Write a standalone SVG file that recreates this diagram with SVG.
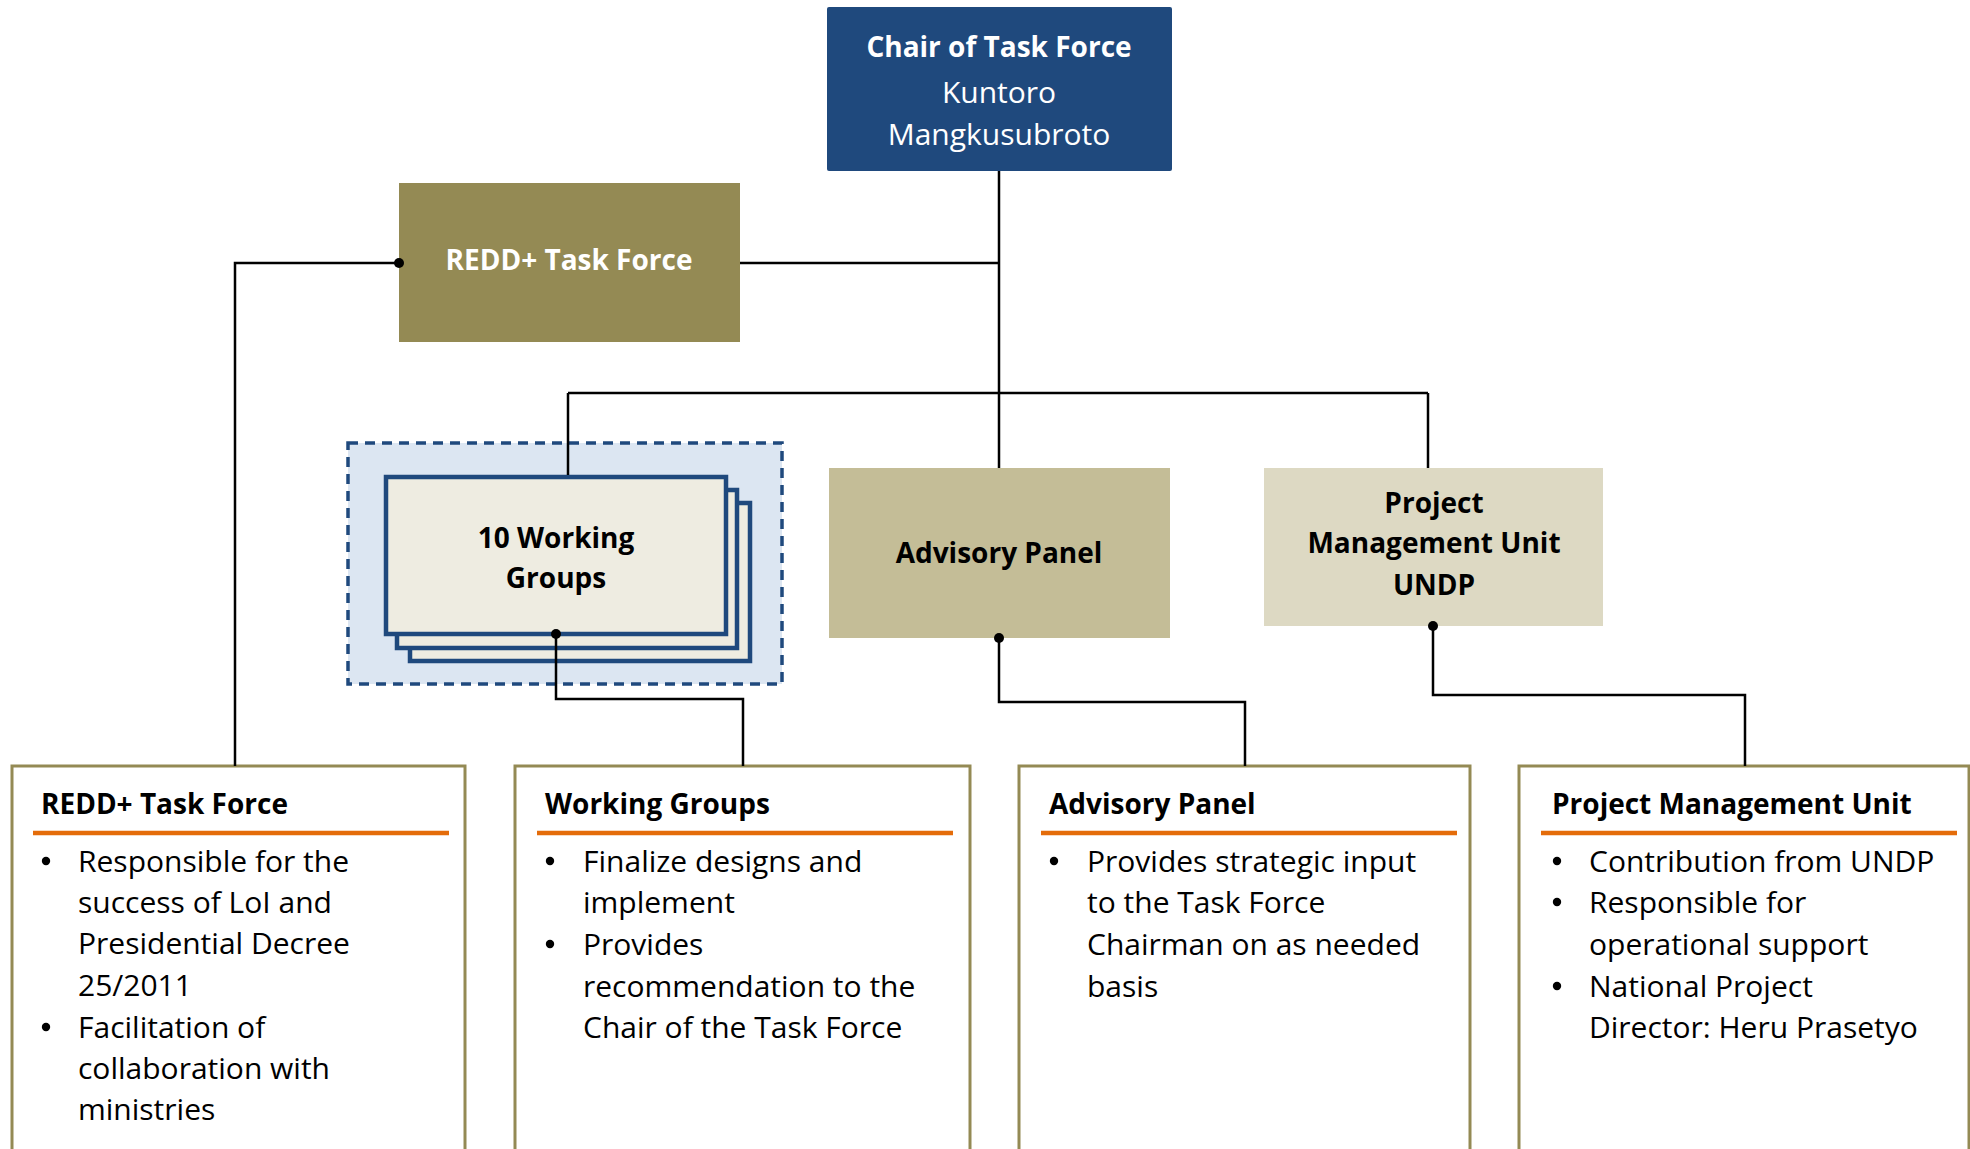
<svg xmlns="http://www.w3.org/2000/svg" width="1970" height="1149" viewBox="0 0 1970 1149">
<style>
  .b { font-family: "Open Sans", "Noto Sans", "Liberation Sans", sans-serif; font-weight: bold; font-size: 28px; }
  .r { font-family: "Open Sans", "Noto Sans", "Liberation Sans", sans-serif; font-size: 30px; fill: #000; }
  .c { text-anchor: middle; }
  .conn { fill: none; stroke: #000; stroke-width: 2.5; }
  .desc { fill: #fff; stroke: #948A54; stroke-width: 3; }
  .rule { stroke: #E46C0A; stroke-width: 4.5; }
  .card { fill: #EEECE1; stroke: #1F497D; stroke-width: 4.5; }
</style>
<defs>
  <circle id="bullet" r="4.2" fill="#000"/>
</defs>
<rect width="1970" height="1149" fill="#fff"/>

<g id="chair">
  <rect x="827" y="7" width="345" height="164" rx="2" fill="#1F497D"/>
  <text class="b c" x="999" y="57" fill="#fff">Chair of Task Force</text>
  <text class="r c" x="999" y="103" style="fill:#fff">Kuntoro</text>
  <text class="r c" x="999" y="145" style="fill:#fff">Mangkusubroto</text>
</g>

<g id="redd-task-force">
  <rect x="399" y="183" width="341" height="159" fill="#948A54"/>
  <text class="b c" x="569" y="270" fill="#fff">REDD+ Task Force</text>
</g>

<g id="working-groups">
  <rect x="348" y="443" width="434" height="241" fill="#DCE6F2" stroke="#1F497D" stroke-width="3.5" stroke-dasharray="10,7"/>
  <rect class="card" x="410" y="503" width="340" height="158"/>
  <rect class="card" x="397" y="490" width="340" height="158"/>
  <rect class="card" x="386" y="477" width="340" height="157"/>
  <text class="b c" x="556" y="548" fill="#000">10 Working</text>
  <text class="b c" x="556" y="588" fill="#000">Groups</text>
</g>

<g id="advisory-panel">
  <rect x="829" y="468" width="341" height="170" fill="#C4BD97"/>
  <text class="b c" x="999" y="563" fill="#000">Advisory Panel</text>
</g>

<g id="pmu">
  <rect x="1264" y="468" width="339" height="158" fill="#DDD9C3"/>
  <text class="b c" x="1434" y="513" fill="#000">Project</text>
  <text class="b c" x="1434" y="553" fill="#000">Management Unit</text>
  <text class="b c" x="1434" y="595" fill="#000">UNDP</text>
</g>

<g id="desc-redd">
  <rect class="desc" x="12" y="766" width="453" height="400"/>
  <text class="b" x="41" y="814" fill="#000">REDD+ Task Force</text>
  <line class="rule" x1="33" y1="833" x2="449" y2="833"/>
  <use href="#bullet" x="46" y="861"/>
  <text class="r" x="78" y="872">Responsible for the</text>
  <text class="r" x="78" y="913">success of LoI and</text>
  <text class="r" x="78" y="954">Presidential Decree</text>
  <text class="r" x="78" y="996">25/2011</text>
  <use href="#bullet" x="46" y="1027"/>
  <text class="r" x="78" y="1038">Facilitation of</text>
  <text class="r" x="78" y="1079">collaboration with</text>
  <text class="r" x="78" y="1120">ministries</text>
</g>

<g id="desc-wg">
  <rect class="desc" x="515" y="766" width="455" height="400"/>
  <text class="b" x="545" y="814" fill="#000">Working Groups</text>
  <line class="rule" x1="537" y1="833" x2="953" y2="833"/>
  <use href="#bullet" x="550" y="861"/>
  <text class="r" x="583" y="872">Finalize designs and</text>
  <text class="r" x="583" y="913">implement</text>
  <use href="#bullet" x="550" y="944"/>
  <text class="r" x="583" y="955">Provides</text>
  <text class="r" x="583" y="997">recommendation to the</text>
  <text class="r" x="583" y="1038">Chair of the Task Force</text>
</g>

<g id="desc-advisory">
  <rect class="desc" x="1019" y="766" width="451" height="400"/>
  <text class="b" x="1049" y="814" fill="#000">Advisory Panel</text>
  <line class="rule" x1="1041" y1="833" x2="1457" y2="833"/>
  <use href="#bullet" x="1054" y="861"/>
  <text class="r" x="1087" y="872">Provides strategic input</text>
  <text class="r" x="1087" y="913">to the Task Force</text>
  <text class="r" x="1087" y="955">Chairman on as needed</text>
  <text class="r" x="1087" y="997">basis</text>
</g>

<g id="desc-pmu">
  <rect class="desc" x="1519" y="766" width="450" height="400"/>
  <text class="b" x="1552" y="814" fill="#000">Project Management Unit</text>
  <line class="rule" x1="1541" y1="833" x2="1957" y2="833"/>
  <use href="#bullet" x="1557" y="861"/>
  <text class="r" x="1589" y="872">Contribution from UNDP</text>
  <use href="#bullet" x="1557" y="902"/>
  <text class="r" x="1589" y="913">Responsible for</text>
  <text class="r" x="1589" y="955">operational support</text>
  <use href="#bullet" x="1557" y="986"/>
  <text class="r" x="1589" y="997">National Project</text>
  <text class="r" x="1589" y="1038">Director: Heru Prasetyo</text>
</g>

<g id="connectors">
  <path class="conn" d="M999,171 V468"/>
  <path class="conn" d="M740,263 H999"/>
  <path class="conn" d="M568,393 H1428"/>
  <path class="conn" d="M568,393 V475"/>
  <path class="conn" d="M1428,393 V468"/>
  <path class="conn" d="M399,263 H235 V766"/>
  <path class="conn" d="M556,634 V699 H743 V766"/>
  <path class="conn" d="M999,638 V702 H1245 V766"/>
  <path class="conn" d="M1433,626 V695 H1745 V766"/>
  <circle cx="399" cy="263" r="5"/>
  <circle cx="556" cy="634" r="5"/>
  <circle cx="999" cy="638" r="5"/>
  <circle cx="1433" cy="626" r="5"/>
</g>
</svg>
